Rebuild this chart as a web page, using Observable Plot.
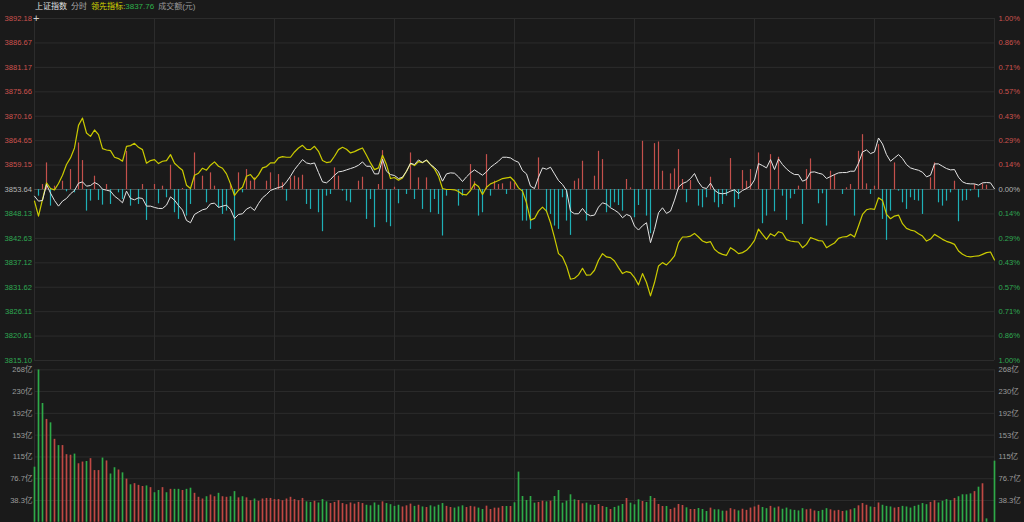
<!DOCTYPE html>
<html><head><meta charset="utf-8">
<script src="https://cdn.jsdelivr.net/npm/d3@7"></script>
<script src="https://cdn.jsdelivr.net/npm/@observablehq/plot@0.6"></script>
<style>
body{margin:0;background:#1a1a1a;}
#wrap{position:relative;width:1024px;height:522px;overflow:hidden;background:#1a1a1a;font-family:"Liberation Sans","Noto Sans CJK SC",sans-serif;}
#title{position:absolute;left:35px;top:2px;font-size:8px;line-height:10px;white-space:nowrap;z-index:2;}
#title span{margin-right:4px}
#cross{position:absolute;left:33px;top:12px;font-size:11px;color:#cfcfcf;z-index:2;}
#p1{position:absolute;left:0;top:0}
#p2{position:absolute;left:0;top:365px}
</style></head><body>
<div id="wrap">
<div id="title"><span style="color:#e0e0e0">上证指数</span><span style="color:#aaaaaa">分时</span><span style="color:#d6d600;margin-right:0">领先指标:</span><span style="color:#2fb24c">3837.76</span><span style="color:#9a9a9a">成交额(元)</span></div>
<div id="cross">+</div>
<div id="p1"></div>
<div id="p2"></div>
</div>
<script>
// ---- data ----
const prevClose = 3853.64;
const priceTicks = [3892.18,3886.67,3881.17,3875.66,3870.16,3864.65,3859.15,3853.64,3848.13,3842.63,3837.12,3831.62,3826.11,3820.61,3815.10];
const pctLabels = ["1.00%","0.86%","0.71%","0.57%","0.43%","0.29%","0.14%","0.00%","0.14%","0.29%","0.43%","0.57%","0.71%","0.86%","1.00%"];
const timeTicks = [0,30,60,90,120,150,180,210,240];
const volTicks = [38.33,76.67,115,153.33,191.67,230,268.33];
const volLabels = ["38.3亿","76.7亿","115亿","153亿","192亿","230亿","268亿"];

const indexPrice = [
3852.14,3851.02,3851.17,3854.76,3852.82,3851.17,3849.89,3851.02,3851.62,3852.67,
3853.42,3855.06,3855.36,3854.39,3854.54,3855.21,3854.76,3853.71,3853.49,3853.27,
3852.14,3851.47,3850.64,3853.27,3851.62,3851.32,3851.77,3851.62,3849.89,3849.89,
3849.60,3849.37,3849.37,3850.12,3851.99,3851.24,3850.04,3849.00,3846.67,3846.15,
3848.02,3848.55,3849.07,3849.30,3850.42,3850.57,3849.60,3849.89,3850.12,3849.15,
3847.12,3848.02,3848.17,3849.22,3849.67,3848.92,3850.49,3851.77,3852.52,3853.42,
3853.79,3854.09,3854.31,3855.36,3856.64,3858.13,3859.26,3860.38,3859.63,3859.41,
3859.63,3857.46,3855.36,3855.14,3855.89,3856.86,3857.61,3857.76,3858.06,3858.36,
3858.66,3859.11,3859.86,3858.88,3858.88,3857.16,3857.16,3860.46,3857.76,3857.01,
3856.79,3856.11,3856.41,3857.76,3859.56,3859.26,3860.31,3859.71,3860.31,3859.26,
3858.58,3857.61,3855.51,3857.16,3857.39,3857.31,3856.49,3855.44,3856.49,3857.39,
3858.06,3857.46,3856.86,3857.61,3858.66,3859.33,3860.01,3860.91,3860.91,3860.76,
3860.16,
3859.78,3857.91,3857.16,3854.39,3853.86,3856.41,3858.51,3858.21,3858.66,3857.16,
3855.66,3854.76,3853.42,3848.77,3848.17,3848.17,3849.37,3848.17,3847.72,3847.87,
3849.67,3850.64,3850.34,3849.52,3849.00,3848.40,3847.27,3848.02,3847.65,3845.40,
3844.50,3845.48,3846.15,3841.66,3844.65,3848.40,3849.52,3848.25,3848.77,3851.24,
3854.16,3854.99,3855.36,3856.11,3857.24,3855.29,3854.09,3853.86,3855.06,3853.49,
3852.82,3852.67,3852.82,3853.27,3853.57,3852.74,3853.42,3853.86,3854.39,3855.81,
3859.48,3859.03,3858.51,3860.38,3858.13,3860.53,3859.26,3858.28,3857.53,3857.01,
3857.01,3855.51,3855.89,3857.53,3857.61,3857.31,3857.09,3856.11,3856.56,3857.01,
3857.39,3857.46,3857.46,3857.76,3857.76,3859.56,3862.10,3862.55,3861.73,3862.10,
3865.25,3863.90,3861.50,3860.01,3860.76,3861.50,3860.61,3859.26,3858.51,3858.21,
3857.98,3857.53,3856.49,3856.86,3859.41,3859.41,3858.88,3858.36,3858.06,3858.13,
3856.41,3855.36,3854.99,3854.91,3854.91,3854.61,3855.14,3855.21,3855.14,3853.79];

const leadIndicator = [
3851.02,3847.65,3851.39,3855.14,3853.86,3853.57,3854.99,3856.86,3859.26,3860.76,
3863.00,3868.10,3869.74,3866.37,3865.62,3867.05,3866.00,3862.85,3862.55,3862.40,
3860.91,3860.61,3860.01,3863.38,3863.53,3864.05,3863.15,3862.63,3859.56,3860.16,
3860.38,3859.48,3860.01,3860.16,3861.50,3859.56,3858.73,3857.98,3854.61,3853.86,
3856.86,3857.31,3858.43,3857.98,3859.11,3859.86,3858.88,3858.43,3857.16,3854.91,
3852.29,3853.49,3854.16,3856.64,3857.01,3855.89,3856.94,3858.51,3858.81,3859.63,
3859.63,3860.76,3861.06,3860.91,3860.91,3862.10,3863.00,3863.60,3862.70,3862.63,
3863.38,3862.25,3860.16,3859.71,3859.86,3861.13,3862.63,3863.15,3862.70,3861.88,
3862.18,3862.63,3863.00,3861.35,3859.63,3858.13,3858.51,3861.35,3859.26,3856.11,
3856.34,3855.74,3856.26,3857.76,3859.48,3859.03,3859.93,3859.71,3860.23,3859.26,
3858.28,3856.64,3853.86,3853.64,3853.64,3853.57,3853.19,3852.52,3852.44,3853.42,
3854.91,3854.31,3852.52,3854.16,3854.91,3855.29,3855.66,3856.11,3856.26,3856.41,
3855.51,
3854.01,3853.27,3850.64,3846.75,3847.12,3848.77,3849.67,3848.77,3846.15,3842.78,
3839.18,3838.44,3836.41,3833.42,3833.64,3834.39,3835.89,3834.32,3834.39,3835.44,
3837.69,3839.18,3838.44,3838.29,3837.54,3836.04,3834.69,3835.14,3834.91,3833.79,
3832.14,3834.69,3832.67,3829.67,3832.67,3836.41,3837.16,3836.64,3837.54,3838.66,
3841.66,3842.93,3842.93,3843.15,3843.75,3842.93,3842.03,3841.66,3841.88,3840.16,
3839.41,3839.03,3838.81,3840.53,3839.93,3839.18,3839.41,3839.93,3840.91,3842.18,
3844.73,3843.53,3842.40,3843.68,3843.15,3844.13,3843.83,3842.33,3842.03,3841.88,
3841.81,3840.53,3841.28,3842.78,3842.48,3842.11,3842.03,3840.53,3841.06,3841.58,
3842.63,3842.93,3843.00,3843.53,3842.93,3845.40,3848.02,3849.07,3849.30,3849.15,
3851.77,3851.17,3848.02,3847.05,3847.65,3847.87,3845.93,3844.88,3844.50,3844.28,
3843.68,3843.15,3842.03,3842.48,3843.53,3843.00,3842.40,3841.96,3841.66,3841.28,
3839.78,3839.03,3838.59,3838.44,3838.59,3838.66,3839.03,3839.41,3839.56,3837.76];

// [minute, strength in index points] bars above / below the previous-close line
const buyBars = [[2,1.12],[3,5.99],[5,0.75],[7,1.87],[9,4.49],[11,10.49],[12,6.52],[15,3.00],[18,1.12],[23,8.61],[27,1.12],[30,1.12],[32,0.75],[34,5.47],[37,0.22],[40,8.24],[42,3.00],[44,3.75],[45,0.75],[49,1.12],[51,3.75],[53,4.49],[54,1.87],[55,2.62],[58,1.87],[59,3.75],[61,3.37],[62,1.50],[64,2.62],[65,3.00],[66,2.62],[67,3.22],[75,4.87],[76,3.00],[81,1.87],[82,2.77],[86,1.12],[87,8.76],[90,0.52],[94,8.24],[96,2.62],[98,2.62],[109,5.62],[110,1.72],[113,7.86],[115,1.87],[116,1.12],[117,1.27],[119,1.72],
[120,1.50],[126,7.12],[135,1.87],[136,2.40],[137,6.37],[140,3.00],[141,8.61],[142,6.74],[148,2.25],[149,0.37],[152,10.86],[155,10.34],[156,10.71],[157,4.12],[159,3.52],[160,4.64],[161,8.99],[162,2.25],[164,2.02],[169,2.77],[174,6.97],[177,4.27],[178,1.87],[179,4.49],[181,8.24],[184,7.86],[186,7.27],[191,0.75],[193,4.49],[194,6.89],[199,4.12],[200,3.37],[203,0.37],[204,1.12],[206,8.61],[207,12.36],[208,1.27],[210,0.75],[211,10.11],[215,5.99],[224,2.62],[225,5.99],[230,1.87],[235,1.12],[237,1.27],[238,0.97]];
const sellBars = [[1,-1.50],[4,-3.75],[8,-0.52],[10,-0.75],[13,-4.87],[14,-2.62],[16,-2.47],[17,-3.52],[19,-3.37],[21,-0.75],[22,-2.25],[24,-3.75],[26,-3.37],[28,-6.97],[31,-3.22],[33,-1.87],[35,-5.24],[36,-6.74],[38,-5.99],[39,-3.37],[43,-3.00],[46,-4.12],[47,-5.62],[48,-4.87],[50,-11.61],[52,-0.75],[63,-2.62],[68,-3.37],[69,-4.49],[71,-5.24],[72,-9.51],[73,-1.50],[74,-1.12],[77,-0.37],[78,-2.62],[79,-3.00],[83,-6.74],[84,-2.25],[85,-8.61],[88,-7.49],[89,-8.39],[91,-3.22],[93,-1.12],[95,-2.25],[97,-4.49],[99,-5.24],[100,-2.25],[101,-5.62],[102,-10.49],[103,-1.50],[106,-3.75],[107,-1.50],[111,-5.99],[112,-5.24],[114,-1.50],[118,-1.12],
[122,-7.12],[123,-7.12],[124,-8.99],[128,-5.24],[129,-5.62],[130,-8.24],[131,-8.99],[132,-1.87],[133,-7.12],[134,-10.34],[138,-7.12],[143,-5.24],[144,-4.12],[145,-3.00],[146,-3.60],[147,-4.87],[150,-6.37],[151,-3.60],[153,-5.99],[154,-9.96],[163,-3.00],[166,-3.75],[167,-4.12],[168,-1.87],[170,-3.00],[171,-4.12],[172,-3.37],[173,-1.50],[175,-4.12],[176,-2.25],[182,-7.71],[183,-5.99],[185,-5.02],[187,-1.50],[188,-6.97],[189,-2.10],[190,-1.12],[192,-7.86],[196,-3.22],[197,-0.97],[198,-8.24],[202,-1.12],[205,-5.99],[209,-1.12],[212,-6.74],[213,-11.46],[214,-4.87],[216,-0.37],[217,-3.00],[218,-4.49],[219,-1.87],[220,-2.47],[221,-2.62],[222,-5.62],[226,-3.00],[227,-3.75],[228,-2.62],[229,-0.75],[231,-7.27],[232,-2.62],[233,-2.47],[234,-0.37],[236,-1.87]];

// turnover per minute, 亿元
const volume = [
97,268,209,181,175,146,135,135,119,118,
120,103,106,107,112,91,91,113,108,85,
96,92,87,76,66,68,65,63,64,61,
52,56,61,52,58,58,58,56,58,60,
51,44,41,45,48,45,51,45,44,45,
54,43,45,43,38,41,37,41,42,42,
40,40,38,41,44,40,38,42,36,35,
37,34,40,36,33,35,38,33,31,34,
32,35,33,30,29,34,30,36,33,31,
28,30,27,29,32,28,30,27,26,29,
27,30,33,28,26,25,27,29,26,28,
27,25,22.5,28.4,22.5,24.9,24.9,27.8,27.8,27.8,
34.3,88.3,45.4,38.4,45.4,33.7,34.9,37.2,36.0,37.2,
45.4,56,33.7,37.2,48.4,39.6,38.4,32.5,33.7,30.2,
29.6,31.3,27.8,26.1,22.5,26.1,28.4,31.3,41.9,33.7,
30.8,39.6,36.6,34.9,45.4,41.9,31.3,27.8,27.8,22.5,
24.9,31.3,29.6,25.5,22.5,22.5,24.3,22.5,19,24.9,
22,22,19.6,19.6,24,22,20,23,21,25,
27,30,26,24,28,25,27,23,25,22,
21,20,24,22,23,20,19,21,24,22,
20,21,19,20,22,24,29,33,30,27,
26,34,30,28,27,25,26,28,27,25,
28,30,33,31,35,38,34,37,40,38,
42,45,48.4,48.4,50,54,61.8,67.8,6,0,
107.6];
// r = up minute, g = down minute
const volDir = ("gggrgrgrrrgrrgrrrgrggr" +
 "grgrrrgrgg"+"rgrggrggrr"+"rgrrgrrggr"+"grrgrrrrrr" +
 "rrrrrrggrg"+"ggrrrrrrrr"+"rggggrgggg"+"rrrgrgrggg"+"grrgggrrrg" +
 "grrrrrgrgg"+"ggggrrgrgg"+"ggggrrgggr"+"rgrgggrggg"+"rggrrrgrrr"+"rgrrgggrgg"+"gr" +
 "rrgrrrrrgg"+"rgrggggggr"+"rrgggrrrrg"+"rgrrrgrrgg"+"grrggggggg"+"rrggggrg" +
 "gggrgrggg").split("");

// ---- styles ----
const BG = "#1a1a1a", GRID = "#2c2c2c";
const RED_TXT = "#cc524e", GREEN_TXT = "#2fa852", MID_TXT = "#b4b4b4", VOL_TXT = "#9a9a9a";
const upTicks = priceTicks.filter(d => d > prevClose);
const dnTicks = priceTicks.filter(d => d < prevClose);
const pctMap = new Map(priceTicks.map((d, i) => [d, pctLabels[i]]));
const volMap = new Map(volTicks.map((d, i) => [d, volLabels[i]]));
const FONT = "'Liberation Sans','Noto Sans CJK SC',sans-serif";
const common = {width: 1024, marginLeft: 34, marginRight: 30,
  style: {background: "transparent", fontFamily: FONT, fontSize: "7.6px"}};
const axisOpts = {tickSize: 0, label: null, fontSize: 7.6};

const p1 = Plot.plot({
  ...common, height: 365, marginTop: 18, marginBottom: 5,
  x: {domain: [0, 240], axis: null},
  y: {domain: [3815.10, 3892.18], axis: null},
  marks: [
    Plot.gridY(priceTicks, {stroke: GRID, strokeOpacity: 1}),
    Plot.gridX(timeTicks, {stroke: GRID, strokeOpacity: 1}),
    Plot.ruleY([prevClose], {stroke: "#4a4a4a", strokeWidth: 1}),
    Plot.ruleX(buyBars, {x: d => d[0], y1: prevClose, y2: d => prevClose + d[1], stroke: "#c4504c", strokeWidth: 1.2}),
    Plot.ruleX(sellBars, {x: d => d[0], y1: prevClose, y2: d => prevClose + d[1], stroke: "#1eb0b6", strokeWidth: 1.2}),
    Plot.line(leadIndicator, {x: (d, i) => i, y: d => d, stroke: "#cbcb00", strokeWidth: 1.2}),
    Plot.line(indexPrice, {x: (d, i) => i, y: d => d, stroke: "#e4e4e4", strokeWidth: 1}),
    Plot.axisY(upTicks, {...axisOpts, anchor: "left", tickPadding: 2.5, fill: RED_TXT, tickFormat: d => d.toFixed(2)}),
    Plot.axisY([prevClose], {...axisOpts, anchor: "left", tickPadding: 2.5, fill: MID_TXT, tickFormat: d => d.toFixed(2)}),
    Plot.axisY(dnTicks, {...axisOpts, anchor: "left", tickPadding: 2.5, fill: GREEN_TXT, tickFormat: d => d.toFixed(2)}),
    Plot.axisY(upTicks, {...axisOpts, anchor: "right", tickPadding: 4, fill: RED_TXT, tickFormat: d => pctMap.get(d)}),
    Plot.axisY([prevClose], {...axisOpts, anchor: "right", tickPadding: 4, fill: MID_TXT, tickFormat: d => pctMap.get(d)}),
    Plot.axisY(dnTicks, {...axisOpts, anchor: "right", tickPadding: 4, fill: GREEN_TXT, tickFormat: d => pctMap.get(d)})
  ]
});
document.getElementById("p1").append(p1);

const p2 = Plot.plot({
  ...common, height: 157, marginTop: 4.3, marginBottom: 0.2,
  x: {domain: [0, 240], axis: null},
  y: {domain: [0, 268.33], axis: null},
  marks: [
    Plot.gridY(volTicks, {stroke: GRID, strokeOpacity: 1}),
    Plot.gridX(timeTicks, {stroke: GRID, strokeOpacity: 1}),
    Plot.ruleX(volume, {x: (d, i) => i, y1: 0, y2: d => d, filter: (d, i) => volDir[i] === "r", stroke: "#bf4844", strokeWidth: 1.7}),
    Plot.ruleX(volume, {x: (d, i) => i, y1: 0, y2: d => d, filter: (d, i) => volDir[i] === "g", stroke: "#2eaa48", strokeWidth: 1.7}),
    Plot.axisY(volTicks, {...axisOpts, anchor: "left", tickPadding: 2, fill: VOL_TXT, tickFormat: d => volMap.get(d)}),
    Plot.axisY(volTicks, {...axisOpts, anchor: "right", tickPadding: 4, fill: VOL_TXT, tickFormat: d => volMap.get(d)})
  ]
});
document.getElementById("p2").append(p2);
</script>
</body></html>
